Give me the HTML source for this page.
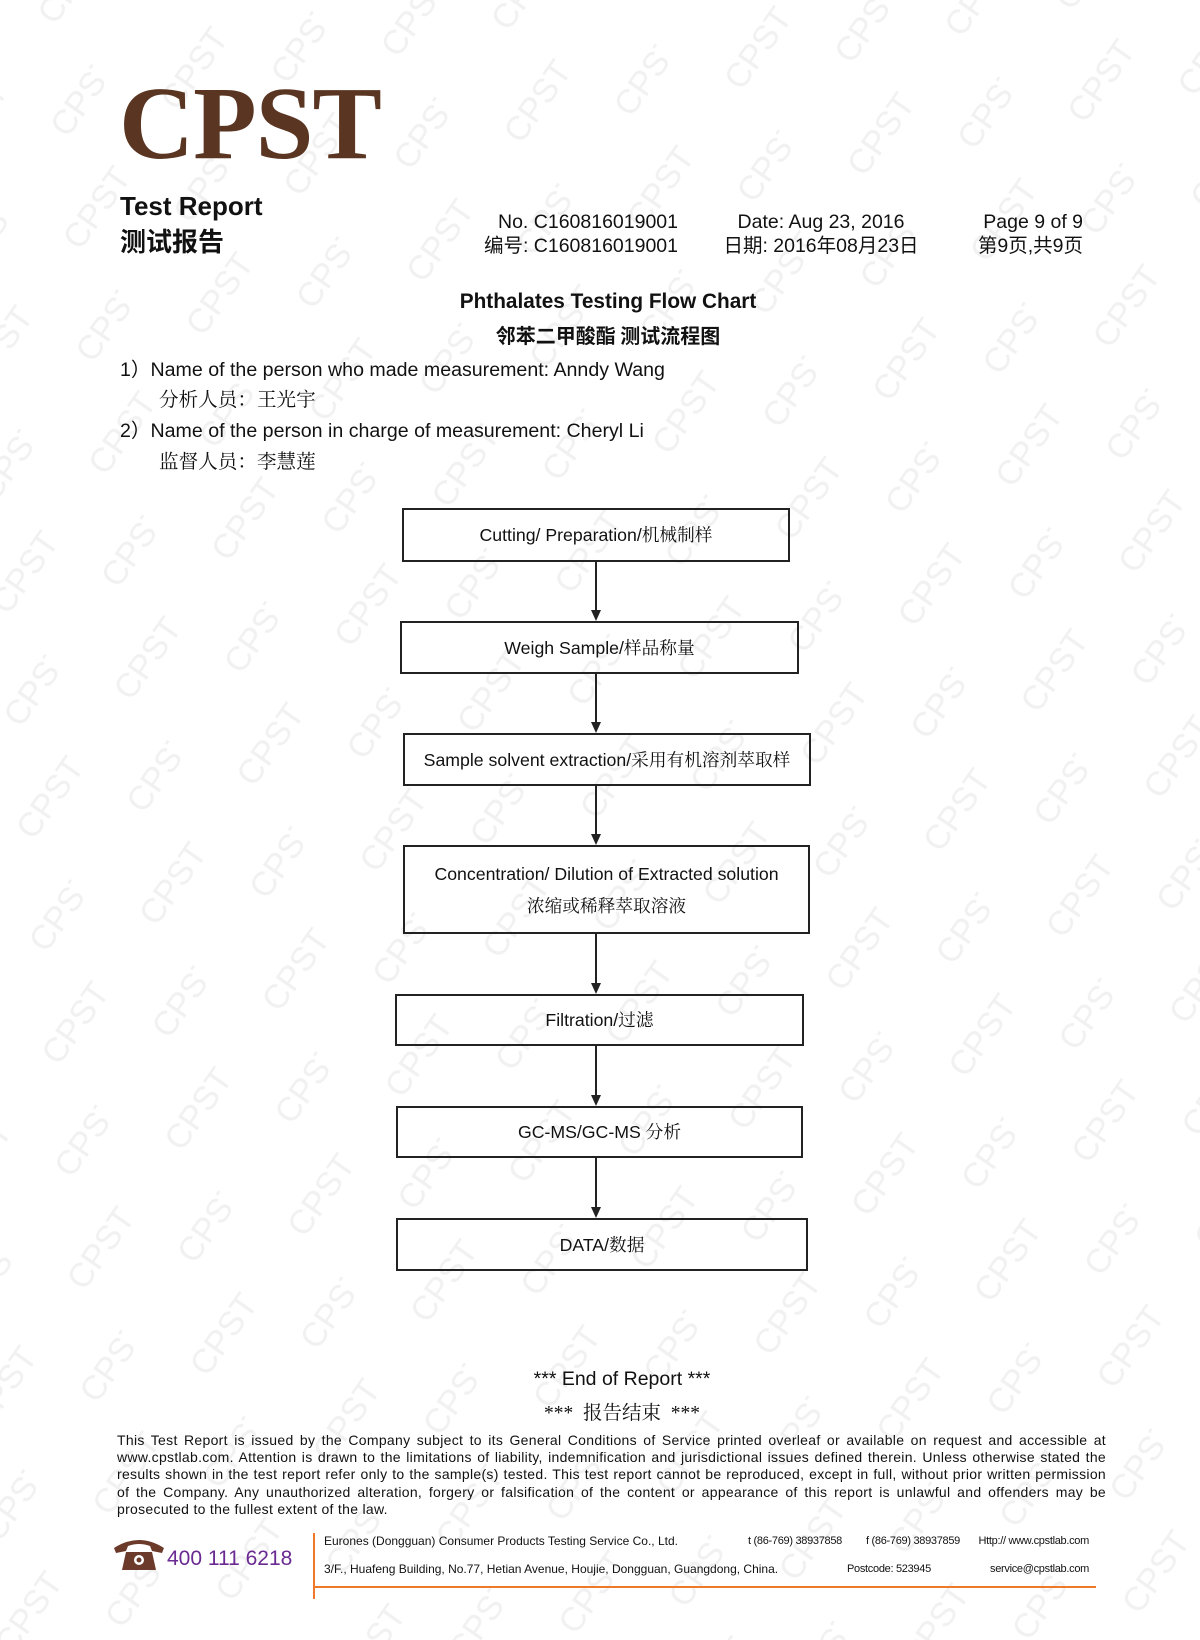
<!DOCTYPE html>
<html><head><meta charset="utf-8"><style>
*{margin:0;padding:0;box-sizing:border-box}
body{width:1200px;height:1640px;background:#fff;position:relative;overflow:hidden;font-family:"Liberation Sans","Noto Sans CJK SC",sans-serif;color:#111}
.a{position:absolute;white-space:nowrap}
.box{position:absolute;border:2px solid #222;display:flex;flex-direction:column;align-items:center;justify-content:center;font-size:17.7px;line-height:32px;background:transparent}
.ln{position:absolute;width:2px;background:#222;left:595px}
.ah{position:absolute;left:591px;width:0;height:0;border-left:5px solid transparent;border-right:5px solid transparent;border-top:11px solid #222}
.cn{font-family:"Liberation Serif","Noto Serif CJK SC",serif}
</style></head><body>
<svg class="a" style="left:0;top:0" width="1200" height="1640">
<defs><pattern id="wm" width="170" height="150" patternUnits="userSpaceOnUse" patternTransform="rotate(-55)">
<text x="10" y="60" font-family="Liberation Sans" font-size="34" fill="#f1f1f1">CPST</text>
<text x="95" y="135" font-family="Liberation Sans" font-size="34" fill="#f1f1f1">CPST</text>
</pattern></defs>
<rect width="1200" height="1640" fill="url(#wm)"/>
</svg>
<div class="a" style="left:119px;top:64px;font-family:'Liberation Serif',serif;font-weight:bold;font-size:104px;color:#5a3522;letter-spacing:-1px;line-height:120px">CPST</div>
<div class="a" style="left:120px;top:191px;font-size:26px;font-weight:bold">Test Report</div>
<div class="a" style="left:120px;top:225px;font-size:26px;font-weight:bold;font-family:'Noto Sans CJK SC',sans-serif;line-height:32px">测试报告</div>
<div class="a" style="right:522px;top:210px;font-size:19.5px;text-align:right;line-height:24px">No. C160816019001<br>编号: C160816019001</div>
<div class="a" style="left:715px;top:210px;font-size:19.5px;text-align:center;line-height:24px;width:212px">Date: Aug 23, 2016<br>日期: 2016年08月23日</div>
<div class="a" style="right:117px;top:210px;font-size:19.5px;text-align:right;line-height:24px">Page 9 of 9<br>第9页,共9页</div>
<div class="a" style="left:0;width:1216px;text-align:center;top:290px;font-size:20.8px;font-weight:bold">Phthalates Testing Flow Chart</div>
<div class="a" style="left:0;width:1216px;text-align:center;top:320px;font-size:20px;font-weight:bold;font-family:'Noto Sans CJK SC',sans-serif">邻苯二甲酸酯 测试流程图</div>
<div class="a" style="left:120px;top:353px;font-size:19.6px">1）Name of the person who made measurement: Anndy Wang</div>
<div class="a cn" style="left:159px;top:383px;font-size:19.6px">分析人员：王光宇</div>
<div class="a" style="left:120px;top:414px;font-size:19.6px">2）Name of the person in charge of measurement: Cheryl Li</div>
<div class="a cn" style="left:159px;top:445px;font-size:19.6px">监督人员：李慧莲</div>

<div class="box" style="left:402px;top:508px;width:388px;height:54px"><span>Cutting/ Preparation/<span class="cn">机械制样</span></span></div>
<div class="ln" style="top:562px;height:49px"></div><div class="ah" style="top:610px"></div>
<div class="box" style="left:400px;top:621px;width:399px;height:53px"><span>Weigh Sample/<span class="cn">样品称量</span></span></div>
<div class="ln" style="top:674px;height:49px"></div><div class="ah" style="top:722px"></div>
<div class="box" style="left:403px;top:733px;width:408px;height:53px"><span>Sample solvent extraction/<span class="cn">采用有机溶剂萃取样</span></span></div>
<div class="ln" style="top:786px;height:49px"></div><div class="ah" style="top:834px"></div>
<div class="box" style="left:403px;top:845px;width:407px;height:89px"><span>Concentration/ Dilution of Extracted solution</span><span class="cn">浓缩或稀释萃取溶液</span></div>
<div class="ln" style="top:934px;height:50px"></div><div class="ah" style="top:983px"></div>
<div class="box" style="left:395px;top:994px;width:409px;height:52px"><span>Filtration/<span class="cn">过滤</span></span></div>
<div class="ln" style="top:1046px;height:50px"></div><div class="ah" style="top:1095px"></div>
<div class="box" style="left:396px;top:1106px;width:407px;height:52px"><span>GC-MS/GC-MS <span class="cn">分析</span></span></div>
<div class="ln" style="top:1158px;height:50px"></div><div class="ah" style="top:1207px"></div>
<div class="box" style="left:396px;top:1218px;width:412px;height:53px"><span>DATA/<span class="cn">数据</span></span></div>

<div class="a" style="left:0;width:1244px;text-align:center;top:1368px;font-size:19.5px">*** End of Report ***</div>
<div class="a cn" style="left:0;width:1244px;text-align:center;top:1397px;font-size:19.5px">*** &nbsp;报告结束 &nbsp;***</div>
<div class="a" style="left:117px;top:1432px;width:989px;white-space:normal;text-align:justify;font-size:14px;letter-spacing:0.3px;line-height:17.2px">This Test Report is issued by the Company subject to its General Conditions of Service printed overleaf or available on request and accessible at www.cpstlab.com. Attention is drawn to the limitations of liability, indemnification and jurisdictional issues defined therein. Unless otherwise stated the results shown in the test report refer only to the sample(s) tested. This test report cannot be reproduced, except in full, without prior written permission of the Company. Any unauthorized alteration, forgery or falsification of the content or appearance of this report is unlawful and offenders may be prosecuted to the fullest extent of the law.</div>

<svg class="a" style="left:112px;top:1536px" width="54" height="36" viewBox="0 0 54 36">
<path d="M2 12 Q27 -4 52 12 L50 17 L40 15 L38 10 Q27 6 16 10 L14 15 L4 17 Z" fill="#6b3a2a"/>
<path d="M14 16 L40 16 L44 34 L10 34 Z" fill="#6b3a2a"/>
<circle cx="27" cy="24" r="5" fill="#fff"/><circle cx="27" cy="24" r="2.5" fill="#6b3a2a"/>
</svg>
<div class="a" style="left:167px;top:1547px;font-size:21px;color:#6a2a92">400 111 6218</div>
<div class="a" style="left:313px;top:1533px;width:2px;height:66px;background:#f0782a"></div>
<div class="a" style="left:313px;top:1586px;width:783px;height:2px;background:#f0782a"></div>
<div class="a" style="left:324px;top:1534px;font-size:12px">Eurones (Dongguan) Consumer Products Testing Service Co., Ltd.</div>
<div class="a" style="left:748px;top:1535px;font-size:11px;letter-spacing:-0.3px">t (86-769) 38937858</div>
<div class="a" style="left:866px;top:1535px;font-size:11px;letter-spacing:-0.3px">f (86-769) 38937859</div>
<div class="a" style="right:111px;top:1535px;font-size:11px;letter-spacing:-0.3px">Http:// www.cpstlab.com</div>
<div class="a" style="left:324px;top:1562px;font-size:12px">3/F., Huafeng Building, No.77, Hetian Avenue, Houjie, Dongguan, Guangdong, China.</div>
<div class="a" style="left:847px;top:1563px;font-size:11px;letter-spacing:-0.3px">Postcode: 523945</div>
<div class="a" style="right:111px;top:1563px;font-size:11px;letter-spacing:-0.3px">service@cpstlab.com</div>
</body></html>
